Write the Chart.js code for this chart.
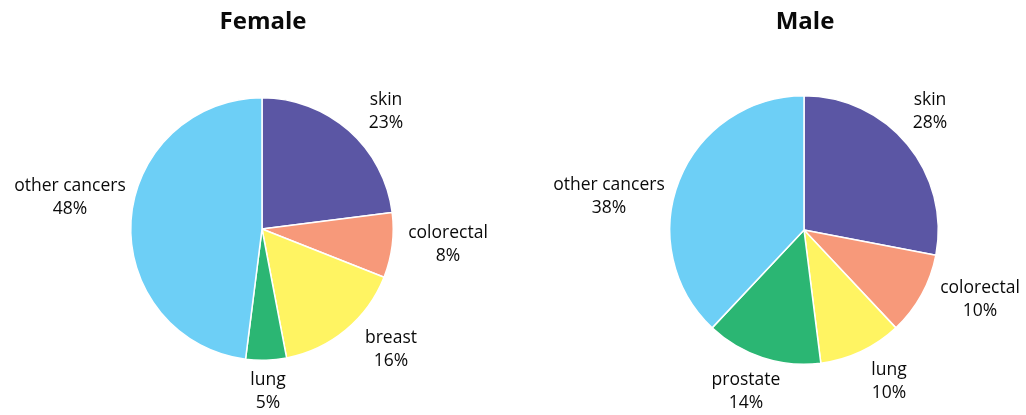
<!DOCTYPE html>
<html>
<head>
<meta charset="utf-8">
<script src="https://cdn.jsdelivr.net/npm/chart.js@4/dist/chart.umd.min.js"></script>
<style>
  html, body { margin: 0; padding: 0; background: #fff; }
  #wrap { position: relative; width: 1026px; height: 415px; }
  canvas { position: absolute; top: 0; }
</style>
</head>
<body>
<div id="wrap">
  <canvas id="female" width="513" height="415" style="left:0"></canvas>
  <canvas id="male" width="513" height="415" style="left:513px"></canvas>
</div>
<script>
// data
const femaleLabels = ["skin", "colorectal", "breast", "lung", "other cancers"];
const femaleValues = [23, 8, 16, 5, 48];
const maleLabels = ["skin", "colorectal", "lung", "prostate", "other cancers"];
const maleValues = [28, 10, 10, 14, 38];

// colours per cancer type
const palette = {
  "skin": "#5b56a4",
  "colorectal": "#f7997a",
  "breast": "#fff462",
  "lung": "#fff462",
  "prostate": "#2bb673",
  "other cancers": "#6dcff6"
};
const femalePalette = Object.assign({}, palette, { "lung": "#2bb673" });

const FONT = "'Open Sans', 'Noto Sans', sans-serif";

// where each label block sits, relative to the pie centre
const femaleLabelOffsets = [[124, -117], [186, 16], [129, 121], [6, 163], [-192, -31]];
const maleLabelOffsets = [[126, -118], [176, 70], [85, 152], [-58, 162], [-195, -33]];

const pieLabels = {
  id: 'pieLabels',
  afterDraw(chart, args, opts) {
    const ctx = chart.ctx;
    const arc = chart.getDatasetMeta(0).data[0];
    const cx = arc.x, cy = arc.y;
    ctx.save();
    ctx.fillStyle = '#0a0a0a';
    ctx.textAlign = 'center';
    ctx.textBaseline = 'middle';
    // title
    ctx.font = "bold 24px " + FONT;
    ctx.fillText(opts.title, cx + 1, 22);
    // slice labels
    ctx.font = "17.5px " + FONT;
    const values = chart.data.datasets[0].data;
    chart.data.labels.forEach((lab, i) => {
      const [dx, dy] = opts.offsets[i];
      ctx.fillText(lab, cx + dx, cy + dy - 11.5);
      ctx.fillText(values[i] + '%', cx + dx, cy + dy + 11.5);
    });
    ctx.restore();
  }
};

function makePie(id, labels, values, colours, padding, title, offsets) {
  return new Chart(document.getElementById(id), {
    type: 'pie',
    data: {
      labels: labels,
      datasets: [{
        data: values,
        backgroundColor: labels.map(l => colours[l]),
        borderColor: '#ffffff',
        borderWidth: 1.5
      }]
    },
    options: {
      responsive: false,
      animation: false,
      layout: { padding: padding },
      plugins: {
        legend: { display: false },
        tooltip: { enabled: false },
        pieLabels: { title: title, offsets: offsets }
      }
    },
    plugins: [pieLabels]
  });
}

makePie('female', femaleLabels, femaleValues, femalePalette,
  { left: 130, right: 119, top: 97, bottom: 54 }, 'Female', femaleLabelOffsets);
makePie('male', maleLabels, maleValues, palette,
  { left: 156, right: 87, top: 95, bottom: 50 }, 'Male', maleLabelOffsets);
</script>
</body>
</html>
